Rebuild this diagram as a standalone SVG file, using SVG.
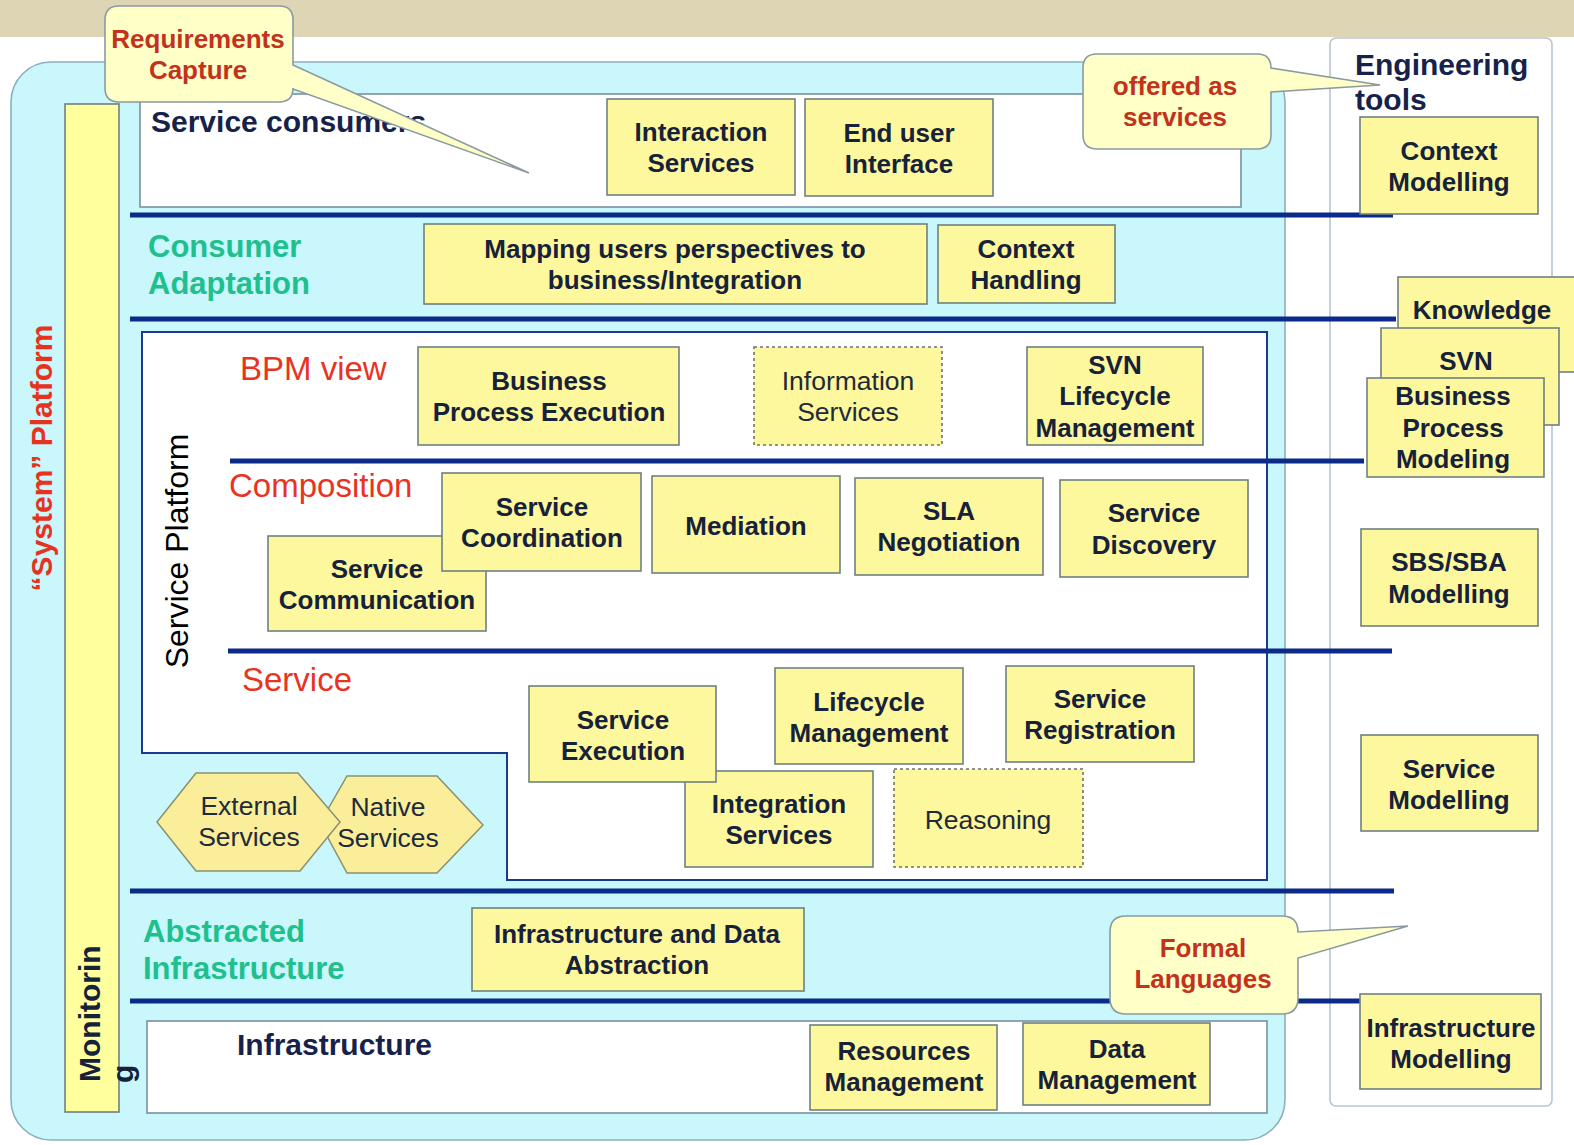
<svg xmlns="http://www.w3.org/2000/svg" width="1574" height="1145" viewBox="0 0 1574 1145">
<style>
.box{fill:#fdf79d;stroke:#6f8080;stroke-width:1.6}
.dash{fill:#fdf79d;stroke:#707070;stroke-width:1.6;stroke-dasharray:3 3}
.hex{fill:#faee9a;stroke:#8a9070;stroke-width:1.5}
.bt{font-family:"Liberation Sans",Arial,sans-serif;font-size:26px;font-weight:bold;fill:#16213a;text-anchor:middle}
.nt{font-family:"Liberation Sans",Arial,sans-serif;font-size:26.5px;fill:#1f2a3a;text-anchor:middle}
.ct{font-family:"Liberation Sans",Arial,sans-serif;font-size:26px;font-weight:bold;fill:#c2321c;text-anchor:middle}
.red{font-family:"Liberation Sans",Arial,sans-serif;font-size:33px;fill:#e8341f}
.teal{font-family:"Liberation Sans",Arial,sans-serif;font-size:31px;font-weight:bold;fill:#20c08e}
.navy{font-family:"Liberation Sans",Arial,sans-serif;font-size:30px;font-weight:bold;fill:#16224a}
.call{fill:#ffffc8;stroke:#8a9aa0;stroke-width:1.6}
.ln{stroke:#0b2a8a;stroke-width:5;fill:none}
</style>
<rect x="0" y="0" width="1574" height="1145" fill="#ffffff"/>
<rect x="0" y="0" width="1574" height="37" fill="#ddd5b4"/>
<g id="system-platform">
<rect x="11" y="62" width="1274" height="1078" rx="40" fill="#c9f7fb" stroke="#8ab0c0" stroke-width="1.6"/>
<text transform="translate(52,458) rotate(-90)" font-family="Liberation Sans,Arial,sans-serif" font-size="30" font-weight="bold" fill="#e6321e" text-anchor="middle">“System” Platform</text>
</g>
<g id="engineering-tools">
<rect x="1330" y="38" width="222" height="1068" rx="6" fill="#ffffff" stroke="#b8c4d4" stroke-width="1.6"/>
<text x="1355" y="75" class="navy" font-size="31">Engineering</text>
<text x="1355" y="110" class="navy" font-size="31">tools</text>
</g>
<g id="monitoring">
<rect x="65" y="104" width="54" height="1008" fill="#ffff9e" stroke="#6f8080" stroke-width="1.6"/>
<text transform="translate(100,1082) rotate(-90)" font-family="Liberation Sans,Arial,sans-serif" font-size="30" font-weight="bold" fill="#16213a">Monitorin</text>
<text transform="translate(133,1083) rotate(-90)" font-family="Liberation Sans,Arial,sans-serif" font-size="30" font-weight="bold" fill="#16213a">g</text>
</g>
<g id="service-consumers">
<rect x="140" y="94" width="1101" height="113" fill="#ffffff" stroke="#7890a0" stroke-width="1.6"/>
<text x="151" y="132" class="navy">Service consumers</text>
</g>
<g id="service-platform">
<path d="M142,332 H1267 V880 H507 V753 H142 Z" fill="#ffffff" stroke="#1a3a90" stroke-width="2"/>
<text transform="translate(188,551) rotate(-90)" font-family="Liberation Sans,Arial,sans-serif" font-size="32" fill="#000000" text-anchor="middle">Service Platform</text>
</g>
<g id="infrastructure">
<rect x="147" y="1021" width="1120" height="92" fill="#ffffff" stroke="#7890a0" stroke-width="1.6"/>
<text x="237" y="1055" class="navy">Infrastructure</text>
</g>
<g id="connectors">
<line class="ln" x1="130" y1="215" x2="1393" y2="215"/>
<line class="ln" x1="130" y1="319" x2="1396" y2="319"/>
<line class="ln" x1="230" y1="461" x2="1364" y2="461"/>
<line class="ln" x1="228" y1="651" x2="1392" y2="651"/>
<line class="ln" x1="130" y1="891" x2="1394" y2="891"/>
<line class="ln" x1="130" y1="1001" x2="1362" y2="1001"/>
</g>
<g id="labels">
<text x="148" y="257" class="teal">Consumer</text>
<text x="148" y="294" class="teal">Adaptation</text>
<text x="240" y="380" class="red">BPM view</text>
<text x="229" y="497" class="red">Composition</text>
<text x="242" y="691" class="red">Service</text>
<text x="143" y="942" class="teal">Abstracted</text>
<text x="143" y="979" class="teal">Infrastructure</text>
</g>
<g id="interaction-services"><rect class="box" x="607" y="99" width="188" height="96"/><text class="bt" x="701" y="141">Interaction</text><text class="bt" x="701" y="172">Services</text></g>
<g id="end-user-interface"><rect class="box" x="805" y="99" width="188" height="97"/><text class="bt" x="899" y="142">End user</text><text class="bt" x="899" y="173">Interface</text></g>
<g id="mapping"><rect class="box" x="424" y="224" width="503" height="80"/><text class="bt" x="675" y="258">Mapping users perspectives to</text><text class="bt" x="675" y="289">business/Integration</text></g>
<g id="context-handling"><rect class="box" x="938" y="225" width="177" height="78"/><text class="bt" x="1026" y="258">Context</text><text class="bt" x="1026" y="289">Handling</text></g>
<g id="bpe"><rect class="box" x="418" y="347" width="261" height="98"/><text class="bt" x="549" y="390">Business</text><text class="bt" x="549" y="421">Process Execution</text></g>
<g id="information-services"><rect class="dash" x="754" y="347" width="188" height="98"/><text class="nt" x="848" y="390">Information</text><text class="nt" x="848" y="421">Services</text></g>
<g id="svn-lifecycle"><rect class="box" x="1027" y="347" width="176" height="98"/><text class="bt" x="1115" y="374">SVN</text><text class="bt" x="1115" y="405">Lifecycle</text><text class="bt" x="1115" y="437">Management</text></g>
<g id="service-communication"><rect class="box" x="268" y="536" width="218" height="95"/><text class="bt" x="377" y="578">Service</text><text class="bt" x="377" y="609">Communication</text></g>
<g id="service-coordination"><rect class="box" x="442" y="473" width="199" height="98"/><text class="bt" x="542" y="516">Service</text><text class="bt" x="542" y="547">Coordination</text></g>
<g id="mediation"><rect class="box" x="652" y="476" width="188" height="97"/><text class="bt" x="746" y="535">Mediation</text></g>
<g id="sla-negotiation"><rect class="box" x="855" y="478" width="188" height="97"/><text class="bt" x="949" y="520">SLA</text><text class="bt" x="949" y="551">Negotiation</text></g>
<g id="service-discovery"><rect class="box" x="1060" y="480" width="188" height="97"/><text class="bt" x="1154" y="522">Service</text><text class="bt" x="1154" y="554">Discovery</text></g>
<g id="integration-services"><rect class="box" x="685" y="771" width="188" height="96"/><text class="bt" x="779" y="813">Integration</text><text class="bt" x="779" y="844">Services</text></g>
<g id="service-execution"><rect class="box" x="529" y="686" width="187" height="96"/><text class="bt" x="623" y="729">Service</text><text class="bt" x="623" y="760">Execution</text></g>
<g id="lifecycle-management"><rect class="box" x="775" y="668" width="188" height="96"/><text class="bt" x="869" y="711">Lifecycle</text><text class="bt" x="869" y="742">Management</text></g>
<g id="service-registration"><rect class="box" x="1006" y="666" width="188" height="96"/><text class="bt" x="1100" y="708">Service</text><text class="bt" x="1100" y="739">Registration</text></g>
<g id="reasoning"><rect class="dash" x="894" y="769" width="189" height="98"/><text class="nt" x="988" y="829">Reasoning</text></g>
<g id="native-services"><polygon class="hex" points="320,823 347,776 437,776 483,825 437,873 347,873"/><text class="nt" x="388" y="816">Native</text><text class="nt" x="388" y="847">Services</text></g>
<g id="external-services"><polygon class="hex" points="157,822 196,773 298,773 340,822 300,871 196,871"/><text class="nt" x="249" y="815">External</text><text class="nt" x="249" y="846">Services</text></g>
<g id="infra-data-abstraction"><rect class="box" x="472" y="908" width="332" height="83"/><text class="bt" x="637" y="943">Infrastructure and Data</text><text class="bt" x="637" y="974">Abstraction</text></g>
<g id="resources-management"><rect class="box" x="810" y="1025" width="187" height="85"/><text class="bt" x="904" y="1060">Resources</text><text class="bt" x="904" y="1091">Management</text></g>
<g id="data-management"><rect class="box" x="1023" y="1023" width="187" height="82"/><text class="bt" x="1117" y="1058">Data</text><text class="bt" x="1117" y="1089">Management</text></g>
<g id="context-modelling"><rect class="box" x="1360" y="117" width="178" height="97"/><text class="bt" x="1449" y="160">Context</text><text class="bt" x="1449" y="191">Modelling</text></g>
<g id="knowledge"><rect class="box" x="1398" y="277" width="190" height="95"/><text class="bt" x="1482" y="319">Knowledge</text></g>
<g id="svn"><rect class="box" x="1381" y="328" width="178" height="97"/><text class="bt" x="1466" y="370">SVN</text></g>
<g id="bp-modeling"><rect class="box" x="1367" y="378" width="177" height="99"/><text class="bt" x="1453" y="405">Business</text><text class="bt" x="1453" y="437">Process</text><text class="bt" x="1453" y="468">Modeling</text></g>
<g id="sbs-sba-modelling"><rect class="box" x="1361" y="529" width="177" height="97"/><text class="bt" x="1449" y="571">SBS/SBA</text><text class="bt" x="1449" y="603">Modelling</text></g>
<g id="service-modelling"><rect class="box" x="1361" y="735" width="177" height="96"/><text class="bt" x="1449" y="778">Service</text><text class="bt" x="1449" y="809">Modelling</text></g>
<g id="infrastructure-modelling"><rect class="box" x="1360" y="994" width="181" height="95"/><text class="bt" x="1451" y="1037">Infrastructure</text><text class="bt" x="1451" y="1068">Modelling</text></g>
<g id="requirements-capture">
<path class="call" d="M119,6 H279 Q293,6 293,20 V65 L529,173 L293,89 V88 Q293,102 279,102 H119 Q105,102 105,88 V20 Q105,6 119,6 Z"/>
<text class="ct" x="198" y="48">Requirements</text><text class="ct" x="198" y="79">Capture</text>
</g>
<g id="offered-as-services">
<path class="call" d="M1097,54 H1257 Q1271,54 1271,68 L1380,85 L1271,92 V135 Q1271,149 1257,149 H1097 Q1083,149 1083,135 V68 Q1083,54 1097,54 Z"/>
<text class="ct" x="1175" y="95">offered as</text><text class="ct" x="1175" y="126">services</text>
</g>
<g id="formal-languages">
<path class="call" d="M1126,916 H1282 Q1298,916 1298,932 L1408,926 L1298,958 V998 Q1298,1014 1282,1014 H1126 Q1110,1014 1110,998 V932 Q1110,916 1126,916 Z"/>
<text class="ct" x="1203" y="957">Formal</text><text class="ct" x="1203" y="988">Languages</text>
</g>
</svg>
